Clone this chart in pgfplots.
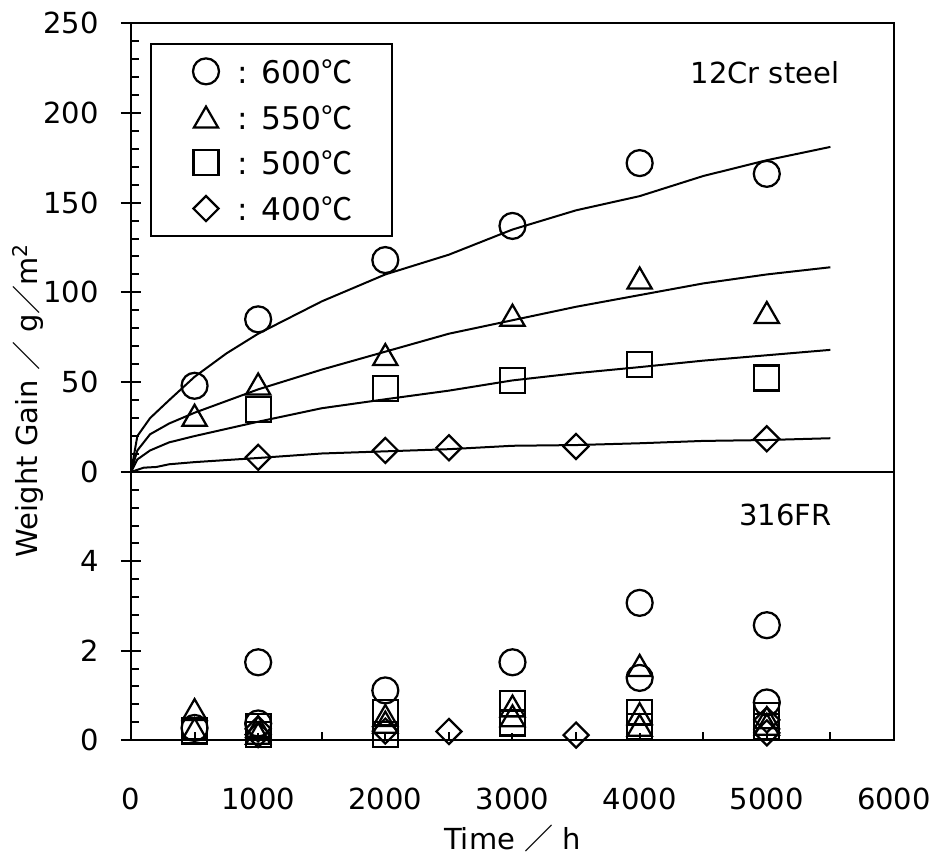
\documentclass[border=0pt]{standalone}
\usepackage{fontspec}
\setmainfont{DejaVu Sans}
\newfontfamily\cjk{Noto Sans CJK JP}
\usepackage{pgfplots}
\pgfplotsset{compat=1.18}

\newcommand{\fwslash}{{\cjk ／}}
\newcommand{\degc}{{\cjk ℃}}

\pgfplotsset{
  panel/.style={
    scale only axis, width=305.2pt,
    xmin=0, xmax=6000,
    axis line style={line width=0.9pt},
    tick style={line width=0.8pt, black},
    tick align=inside,
    major tick length=2.8pt, minor tick length=3.2pt,
    ytick pos=left,
    tick label style={inner sep=0pt, font=\fontsize{11.6}{14}\selectfont},
    yticklabel style={xshift=-12.8pt},
    /pgf/number format/assume math mode=true,
    /pgf/number format/1000 sep={},
    scaled ticks=false,
    extra y tick style={tick align=center, major tick length=8pt, yticklabel={}},
  },
  mk/.style={only marks,
    legend image code/.code={\path[draw=none, fill=none] (0pt,-9.15pt) rectangle (34.8pt,9.15pt);
      \draw[##1] plot coordinates {(22pt,0pt)};}},
  c600/.style={mk, mark=o, mark size=5.2pt,
    mark options={black, line width=0.9pt, solid}},
  c550/.style={mk, mark=triangle, mark size=5.6pt,
    mark options={black, line width=0.9pt, solid, yshift=-1.4pt}},
  c500/.style={mk, mark=square, mark size=5pt,
    mark options={black, line width=0.9pt, solid}},
  c400/.style={mk, mark=square, mark size=3.54pt,
    mark options={black, line width=0.9pt, solid, rotate=45}},
  fit/.style={black, line width=0.8pt, no marks, forget plot},
}

\begin{document}
\begin{tikzpicture}
% 316FR (lower panel)
\begin{axis}[panel, name=bot, at={(0pt,0pt)}, anchor=south west, height=107.2pt,
  ymin=0, ymax=6, ytick={0,2,4,6}, yticklabels={0,2,4,{}}, minor y tick num=4,
  extra y ticks={0,2,4,6},
  xtick={0,1000,...,6000}, minor x tick num=1, xtick pos=bottom,
  xticklabel style={anchor=north, yshift=-18.8pt}]
\addplot[c600] coordinates {(500,0.27) (1000,1.74) (1000,0.37) (2000,1.11) (3000,1.74)
  (4000,3.07) (4000,1.39) (5000,2.57) (5000,0.84)};
\addplot[c550] coordinates {(500,0.68) (500,0.25) (1000,0.3) (1000,0.15) (2000,0.55)
  (2000,0.4) (3000,0.76) (3000,0.54) (4000,1.67) (4000,0.59) (4000,0.33) (5000,0.5) (5000,0.35)};
\addplot[c500] coordinates {(500,0.2) (1000,0.3) (1000,0.12) (2000,0.62) (2000,0.12)
  (3000,0.81) (3000,0.38) (4000,0.62) (4000,0.3) (5000,0.55) (5000,0.3)};
\addplot[c400] coordinates {(1000,0.25) (1000,0.12) (2000,0.2) (2500,0.19) (3500,0.11)
  (5000,0.45) (5000,0.16)};
\end{axis}

% 12Cr steel (upper panel)
\begin{axis}[panel, name=top, at={(0pt,107.2pt)}, anchor=south west, height=179.6pt,
  ymin=0, ymax=250, ytick={0,50,...,250}, minor y tick num=4,
  extra y ticks={0,50,...,250},
  xtick=\empty,
  legend cell align=left,
  legend style={at={(0.0249,0.9555)}, anchor=north west, draw=black, line width=0.8pt,
    inner xsep=0pt, inner ysep=1.8pt, row sep=0pt, column sep=0pt,
    nodes={inner sep=0pt, text depth=0pt}, font=\fontsize{12.5}{15}\selectfont}]
\addplot[fit] coordinates {(0,0) (50,20) (150,30) (300,40) (500,53) (750,66) (1000,77)
  (1500,95) (2000,110) (2500,121) (3000,135) (3500,145.7) (4000,153.6) (4500,164.8)
  (5000,173.6) (5500,181)};
\addplot[fit] coordinates {(0,0) (50,12) (150,21) (300,27) (500,33) (1000,46) (1500,57)
  (2000,67) (2500,77) (3000,84.5) (3500,92) (4000,98.5) (4500,105) (5000,110) (5500,114)};
\addplot[fit] coordinates {(0,0) (50,7) (150,12) (300,16.5) (500,20) (1000,28) (1500,35.5)
  (2000,40.5) (2500,45.3) (3000,51) (3500,55) (4000,58.4) (4500,62) (5000,65) (5500,68)};
\addplot[fit] coordinates {(0,0) (100,2.4) (200,2.8) (300,4.3) (500,5.5) (1000,7.8)
  (1500,10.3) (2000,11.5) (2500,12.7) (3000,14.6) (3500,15) (4000,16) (4500,17.3)
  (5000,17.8) (5500,18.8)};
\addplot[c600] coordinates {(500,48) (1000,85) (2000,118) (3000,137) (4000,172) (5000,166)};
\addlegendentry{: 600\degc\kern15.6pt}
\addplot[c550] coordinates {(500,31.6) (1000,49) (2000,65.4) (3000,87.3) (4000,108) (5000,88.8)};
\addlegendentry{: 550\degc\kern15.6pt}
\addplot[c500] coordinates {(1000,35) (2000,46.6) (3000,50.8) (4000,59.9) (5000,52.4)};
\addlegendentry{: 500\degc\kern15.6pt}
\addplot[c400] coordinates {(1000,8.2) (2000,12) (2500,13.5) (3500,14.2) (5000,18.5)};
\addlegendentry{: 400\degc\kern15.6pt}
\end{axis}

\begin{scope}[font=\fontsize{11.6}{14}\selectfont]
\node[inner sep=0pt] at (253.6pt,267pt) {12Cr steel};
\node[inner sep=0pt] at (261.8pt,90pt) {316FR};
\node[inner sep=0pt, rotate=90] at (-41.2pt,136pt) {Weight Gain \fwslash{} g\fwslash m\textsuperscript{2}};
\node[inner sep=0pt] at (152.6pt,-39.2pt) {Time \fwslash{} h};
\end{scope}

\pgfresetboundingbox
\path[use as bounding box] (-52.4pt,-46.8pt) rectangle (320.8pt,296pt);
\end{tikzpicture}
\end{document}
